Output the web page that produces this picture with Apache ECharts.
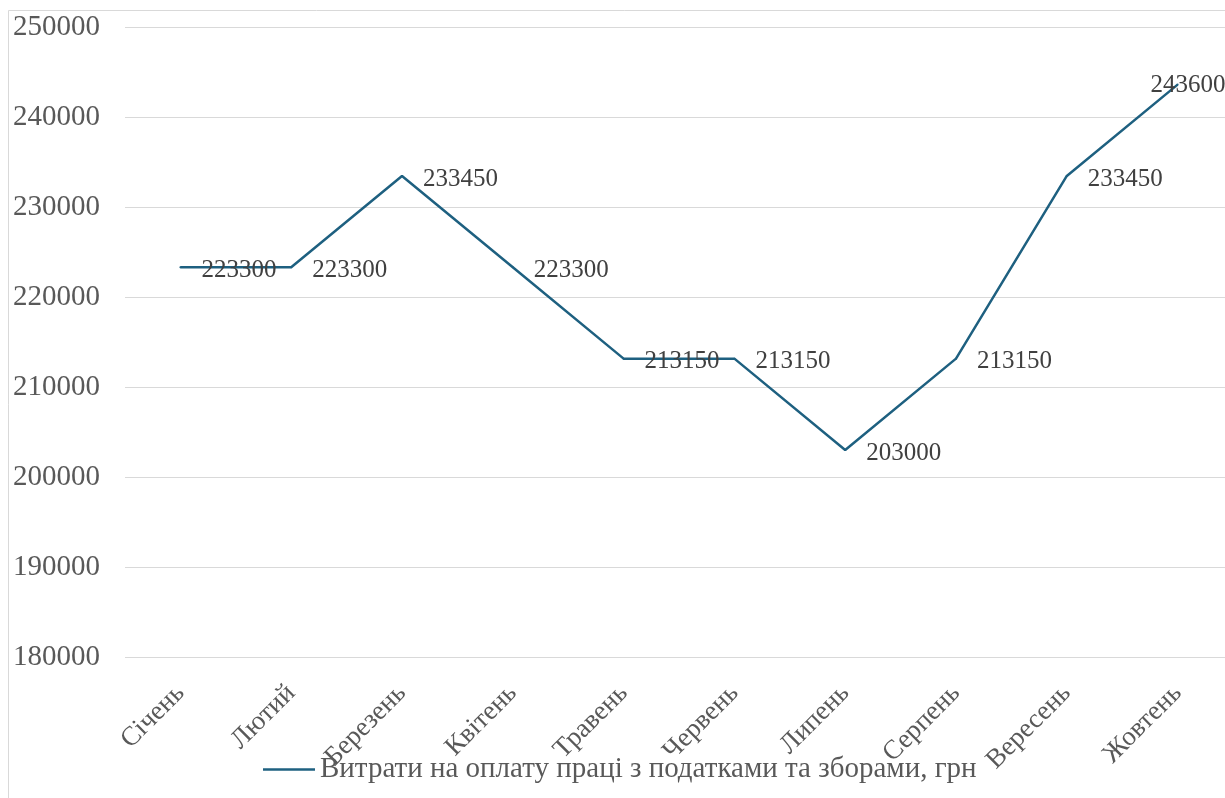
<!DOCTYPE html>
<html>
<head>
<meta charset="utf-8">
<script src="https://cdn.jsdelivr.net/npm/echarts@6/dist/echarts.min.js"></script>
<style>
  html, body { margin: 0; padding: 0; background: #fff; overflow: hidden; }
  #chart { width: 1240px; height: 798px; }
</style>
</head>
<body>
<div id="chart"></div>
<script>
// місяці та витрати
var months = ['Січень', 'Лютий', 'Березень', 'Квітень', 'Травень', 'Червень', 'Липень', 'Серпень', 'Вересень', 'Жовтень'];
var costs = [223300, 223300, 233450, 223300, 213150, 213150, 203000, 213150, 233450, 243600];
var seriesName = 'Витрати на оплату праці з податками та зборами, грн';

(function () {
    // полотно трохи ширше за вікно: у скриншоті графік обрізаний справа
    var myChart = echarts.init(document.getElementById('chart'));
    var font = '"Liberation Serif", "Times New Roman", serif';
    var lineColor = '#1e6080';

    var lineData = costs.map(function (v, i) {
        var item = { value: v };
        // останню мітку Excel зсуває ліворуч
        if (i === costs.length - 1) {
            item.label = { offset: [-48, 1] };
        }
        return item;
    });

    var option = {
        backgroundColor: '#fff',
        animation: false,
        textStyle: { fontFamily: font },
        graphic: [{
            type: 'rect',
            shape: { x: 8.5, y: 10.5, width: 1400, height: 1000 },
            style: { fill: 'none', stroke: '#d9d9d9', lineWidth: 1 },
            silent: true
        }],
        grid: {
            left: 125,
            top: 27,
            width: 1108,
            height: 630,
            containLabel: false
        },
        legend: {
            top: 750,
            left: 258,
            itemWidth: 52,
            itemHeight: 10,
            itemGap: 5,
            icon: 'path://M0,4L52,4L52,6.5L0,6.5Z',
            itemStyle: { color: lineColor, opacity: 1 },
            textStyle: { fontFamily: font, fontSize: 29, color: '#595959' },
            data: [seriesName]
        },
        xAxis: {
            type: 'category',
            data: months,
            boundaryGap: true,
            axisLine: { show: false },
            axisTick: { show: false },
            axisLabel: {
                rotate: 45,
                margin: 32,
                fontFamily: font,
                fontSize: 27,
                color: '#595959',
                interval: 0
            }
        },
        yAxis: {
            type: 'value',
            min: 180000,
            max: 250000,
            interval: 10000,
            axisLine: { show: false },
            axisTick: { show: false },
            axisLabel: {
                margin: 25,
                fontFamily: font,
                fontSize: 29,
                color: '#595959',
                formatter: function (v) { return String(v); }
            },
            splitLine: { lineStyle: { color: '#d9d9d9', width: 1 } }
        },
        series: [{
            name: seriesName,
            type: 'line',
            data: lineData,
            symbol: 'circle',
            symbolSize: 2,
            showSymbol: true,
            lineStyle: { color: lineColor, width: 2.5 },
            itemStyle: { color: lineColor },
            label: {
                show: true,
                position: 'right',
                distance: 20,
                offset: [0, 3],
                fontFamily: font,
                fontSize: 25,
                color: '#404040'
            }
        }]
    };

    myChart.setOption(option);
    window.addEventListener('resize', function () {
        myChart.resize();
    });
})();
</script>
</body>
</html>
